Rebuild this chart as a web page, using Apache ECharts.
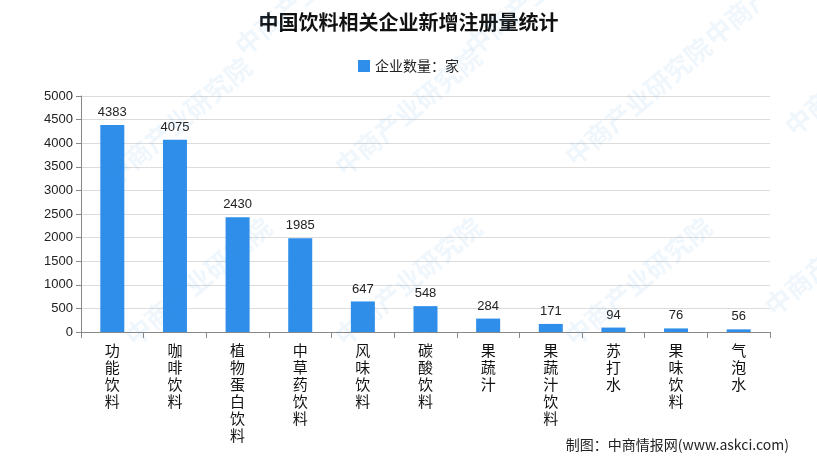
<!DOCTYPE html>
<html><head><meta charset="utf-8">
<script src="https://cdn.jsdelivr.net/npm/echarts@6/dist/echarts.min.js"></script>
<style>html,body{margin:0;padding:0;background:#fff}#c{width:817px;height:458px}</style>
</head><body><div id="c"></div>
<script>
const categories = ['功能饮料','咖啡饮料','植物蛋白饮料','中草药饮料','风味饮料','碳酸饮料','果蔬汁','果蔬汁饮料','苏打水','果味饮料','气泡水'];
const values = [4383, 4075, 2430, 1985, 647, 548, 284, 171, 94, 76, 56];
const seriesName = '企业数量：家';
const titleText = '中国饮料相关企业新增注册量统计';
const sourceText = '制图：中商情报网(www.askci.com)';
const watermark = '中商产业研究院';

const chart = echarts.init(document.getElementById('c'));
const wmPos = [[120,330],[330,330],[560,330],[760,300],[100,170],[330,160],[560,150],[780,120],[230,40],[460,40],[700,30]];
const wm = wmPos.map(p => ({
  type:'text', x:p[0], y:p[1], rotation: Math.PI*40/180, z:100, silent:true,
  style:{text:watermark, fill:'rgba(80,150,220,0.09)', font:'bold 26px "Noto Sans CJK SC"'}
}));
chart.setOption({
  animation:false,
  title:{text:titleText,left:'center',top:7,textStyle:{fontSize:20,fontWeight:'bold',color:'#111',fontFamily:'"Noto Sans CJK SC"'}},
  legend:{top:54,left:'center',itemWidth:12,itemHeight:12,icon:'rect',itemGap:4,
    textStyle:{fontSize:14,color:'#222',fontFamily:'"Noto Sans CJK SC"'}},
  grid:{left:81,right:47,top:96,bottom:126},
  xAxis:{type:'category',data:categories,
    axisLine:{lineStyle:{color:'#888'}},
    axisTick:{show:true,alignWithLabel:false,length:6,lineStyle:{color:'#888'}},
    axisLabel:{interval:0,margin:10,color:'#111',fontSize:15,lineHeight:17,verticalAlign:'top',
      fontFamily:'"Noto Sans CJK SC"',formatter:v=>v.split('').join('\n')}},
  yAxis:{type:'value',min:0,max:5000,interval:500,
    axisLine:{show:true,lineStyle:{color:'#888'}},
    axisTick:{show:true,length:5,lineStyle:{color:'#888'}},
    splitLine:{lineStyle:{color:'#dcdcdc'}},
    axisLabel:{color:'#222',fontSize:13,margin:8,fontFamily:'"Liberation Sans"',formatter:v=>String(v)}},
  series:[{name:seriesName,type:'bar',data:values,barWidth:24,
    itemStyle:{color:'#2e8ee9'},
    label:{show:true,position:'top',distance:6,color:'#222',fontSize:13,fontFamily:'"Liberation Sans"'}}],
  graphic:[...wm,
    {type:'text',right:28,bottom:6,style:{text:sourceText,fill:'#222',font:'14px "Noto Sans CJK SC"'}}]
});
</script></body></html>
